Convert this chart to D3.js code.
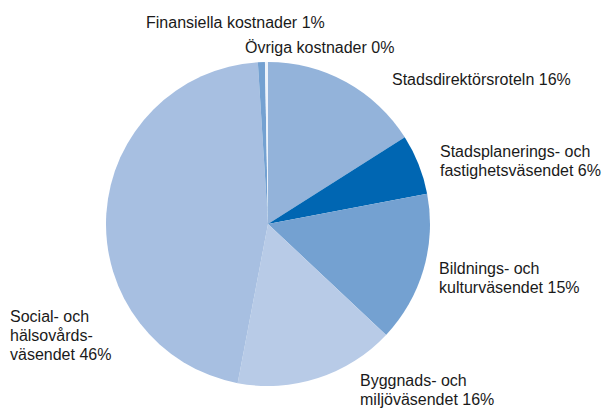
<!DOCTYPE html>
<html>
<head>
<meta charset="utf-8">
<script src="https://cdn.jsdelivr.net/npm/d3@7"></script>
<style>
  body { margin: 0; background: #fff; }
  text { font-family: 'Liberation Sans', Arial, sans-serif; font-size: 16px; fill: #1a1a1a; }
</style>
</head>
<body>
<svg class="pie" width="604" height="410"></svg>
<script>
const categories = [
  ['Stadsdirektörsroteln'],
  ['Stadsplanerings- och', 'fastighetsväsendet'],
  ['Bildnings- och', 'kulturväsendet'],
  ['Byggnads- och', 'miljöväsendet'],
  ['Social- och', 'hälsovårds-', 'väsendet '],
  ['Finansiella kostnader'],
  ['Övriga kostnader']
]
const shares = [16, 6, 15, 16, 46, 0.7, 0.3]
const colors = ['#93b3da', '#0066b2', '#74a1d1', '#b8cbe7', '#a7bfe1', '#74a1d1', '#eef3fa']

// label anchors (first baseline), layout only
const labelPos = [[392, 85], [440, 157], [439, 274], [360, 386], [10, 322], [146, 28], [245, 53]]

const draw = () => {
  const svg = d3.select('.pie'),
    cx = 268, cy = 224, r = 162,
    g = svg.append('g').attr('transform', 'translate(' + cx + ',' + cy + ')')

  const data = categories.map((c, i) => ({ lines: c, value: shares[i], color: colors[i] }))

  const pie = d3.pie().sort(null).value(d => d.value)
  const arc = d3.arc().innerRadius(0).outerRadius(r)

  g.selectAll('path')
    .data(pie(data))
    .enter().append('path')
    .attr('fill', d => d.data.color)
    .attr('d', arc)

  const lbl = svg.selectAll('text.lbl')
    .data(data)
    .enter().append('text')
    .attr('class', 'lbl')
    .attr('x', (d, i) => labelPos[i][0])
    .attr('y', (d, i) => labelPos[i][1])

  lbl.selectAll('tspan')
    .data((d, i) => d.lines.map((l, k) => k === d.lines.length - 1
      ? { t: l + ' ' + Math.round(d.value) + '%', x: labelPos[i][0], k }
      : { t: l, x: labelPos[i][0], k }))
    .enter().append('tspan')
    .attr('x', d => d.x)
    .attr('dy', d => d.k === 0 ? 0 : 19)
    .text(d => d.t)
}

draw()
</script>
</body>
</html>
